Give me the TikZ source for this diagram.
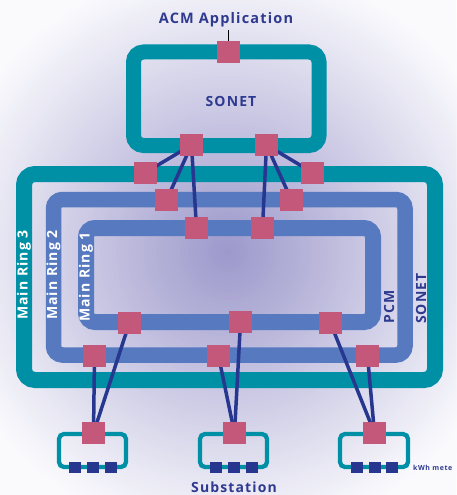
\documentclass[tikz,border=0pt]{standalone}
\usepackage{fontspec}
\setmainfont{Open Sans}
\newfontfamily\spacedfont{Open Sans}[LetterSpace=8]
\definecolor{ringteal}{RGB}{0,144,166}
\definecolor{ringblue}{RGB}{86,121,192}
\definecolor{sqpink}{RGB}{196,88,122}
\definecolor{linenavy}{RGB}{39,55,143}
\definecolor{txtnavy}{RGB}{46,58,143}
\definecolor{bgcA}{RGB}{156,152,203}
\definecolor{bgcG}{RGB}{250,250,253}
\pgfdeclarelayer{bg}
\pgfdeclarelayer{wires}
\pgfsetlayers{bg,wires,main}
\tikzset{
  sq/.style={fill=sqpink, minimum width=23pt, minimum height=22pt, inner sep=0pt, outer sep=0pt},
  meter/.style={fill=linenavy, minimum width=12pt, minimum height=11pt, inner sep=0pt},
  wire/.style={draw=linenavy, line width=3.5pt},
  tealring/.style={draw=ringteal, line width=16pt, rounded corners=11pt},
  bluering/.style={draw=ringblue, line width=15.5pt, rounded corners=9pt},
  subbox/.style={draw=ringteal, line width=4.3pt, rounded corners=5pt},
  navytxt/.style={text=txtnavy, font=\spacedfont\bfseries\fontsize{14}{14}\selectfont, inner sep=0pt},
  ringtxt/.style={text=white, font=\spacedfont\bfseries\fontsize{14}{14}\selectfont, inner sep=0pt, rotate=90}
}
\begin{document}
\begin{tikzpicture}[x=1pt,y=-1pt]
\useasboundingbox (0,0) rectangle (456,495);
\begin{pgfonlayer}{bg}
\begin{scope}
\clip (0,0) rectangle (456,495);
\fill[bgcG] (0,0) rectangle (456,495);
\foreach \r in {340,336,...,4} {
  \pgfmathsetmacro\tt{min(100,\r/2.9)}
  \fill[bgcG!\tt!bgcA] (228,252) circle (\r);
}
\end{scope}
% ACM ring
\draw[tealring, line width=15pt, rounded corners=10pt] (133.5,52) rectangle (319,145.5);
% main rings
\draw[tealring] (24,174) rectangle (435,380);
\draw[bluering] (53.5,199.5) rectangle (405,355);
\draw[bluering, line width=16pt] (86,228) rectangle (373,322);
% substation boxes
\draw[subbox] (59,434) rectangle (126,467);
\draw[subbox] (200,434) rectangle (267,467);
\draw[subbox] (340,434) rectangle (408,467);
\end{pgfonlayer}

% labels
\node[navytxt, font=\spacedfont\bfseries\fontsize{14.5}{14.5}\selectfont] (acm) at (226,20) {ACM Application};
\node[navytxt] (sonetA) at (231,101) {SONET};
\node[navytxt, rotate=90] (sonetB) at (421,298.5) {SONET};
\node[navytxt, rotate=90] (pcm) at (389,307) {PCM};
\node[ringtxt] (mr3) at (24,275) {Main Ring 3};
\node[ringtxt] (mr2) at (53.5,275) {Main Ring 2};
\node[ringtxt] (mr1) at (86,277) {Main Ring 1};
\node[navytxt] (subst) at (234,487.5) {Substation};
\node[text=txtnavy, font=\spacedfont\bfseries\fontsize{7}{7}\selectfont, inner sep=0pt, anchor=west] (kwh) at (413,468) {kWh mete};

% squares
\node[sq] (acmtop) at (228.5,52) {};
\node[sq] (acmL) at (191.5,145) {};
\node[sq] (acmR) at (266.5,145) {};
\node[sq] (r3L) at (145.5,172.5) {};
\node[sq] (r3R) at (312.5,172.5) {};
\node[sq] (r2L) at (166.5,200) {};
\node[sq] (r2R) at (291.5,200) {};
\node[sq] (r1L) at (196.5,228) {};
\node[sq] (r1R) at (262.5,228) {};
\node[sq] (b1L) at (129.5,322.5) {};
\node[sq] (b1M) at (240.5,322) {};
\node[sq] (b1R) at (330.5,323) {};
\node[sq] (b2L) at (94.5,356) {};
\node[sq] (b2M) at (218.5,356) {};
\node[sq] (b2R) at (367.5,356) {};
\node[sq] (sL) at (93.5,433) {};
\node[sq] (sM) at (234.5,433) {};
\node[sq] (sR) at (374.5,433) {};

% meters
\foreach \n/\x in {m1/75,m2/93,m3/111,m4/216,m5/234,m6/252,m7/357,m8/375,m9/392}
  \node[meter] (\n) at (\x,467.5) {};

\begin{pgfonlayer}{wires}
\draw[black, line width=0.8pt] (acm.south -| acmtop) ++(0,3) -- (acmtop.north);
\draw[wire] (acmL.center) -- (r3L.center);
\draw[wire] (acmL.center) -- (r2L.center);
\draw[wire] (acmL.center) -- (r1L.center);
\draw[wire] (acmR.center) -- (r3R.center);
\draw[wire] (acmR.center) -- (r2R.center);
\draw[wire] (acmR.center) -- (r1R.center);
\draw[wire] (sL.center) -- (b2L.center);
\draw[wire] (sL.center) -- (b1L.center);
\draw[wire] (sM.center) -- (b2M.center);
\draw[wire] (sM.center) -- (b1M.center);
\draw[wire] (sR.center) -- (b2R.center);
\draw[wire] (sR.center) -- (b1R.center);
\end{pgfonlayer}
\end{tikzpicture}
\end{document}
